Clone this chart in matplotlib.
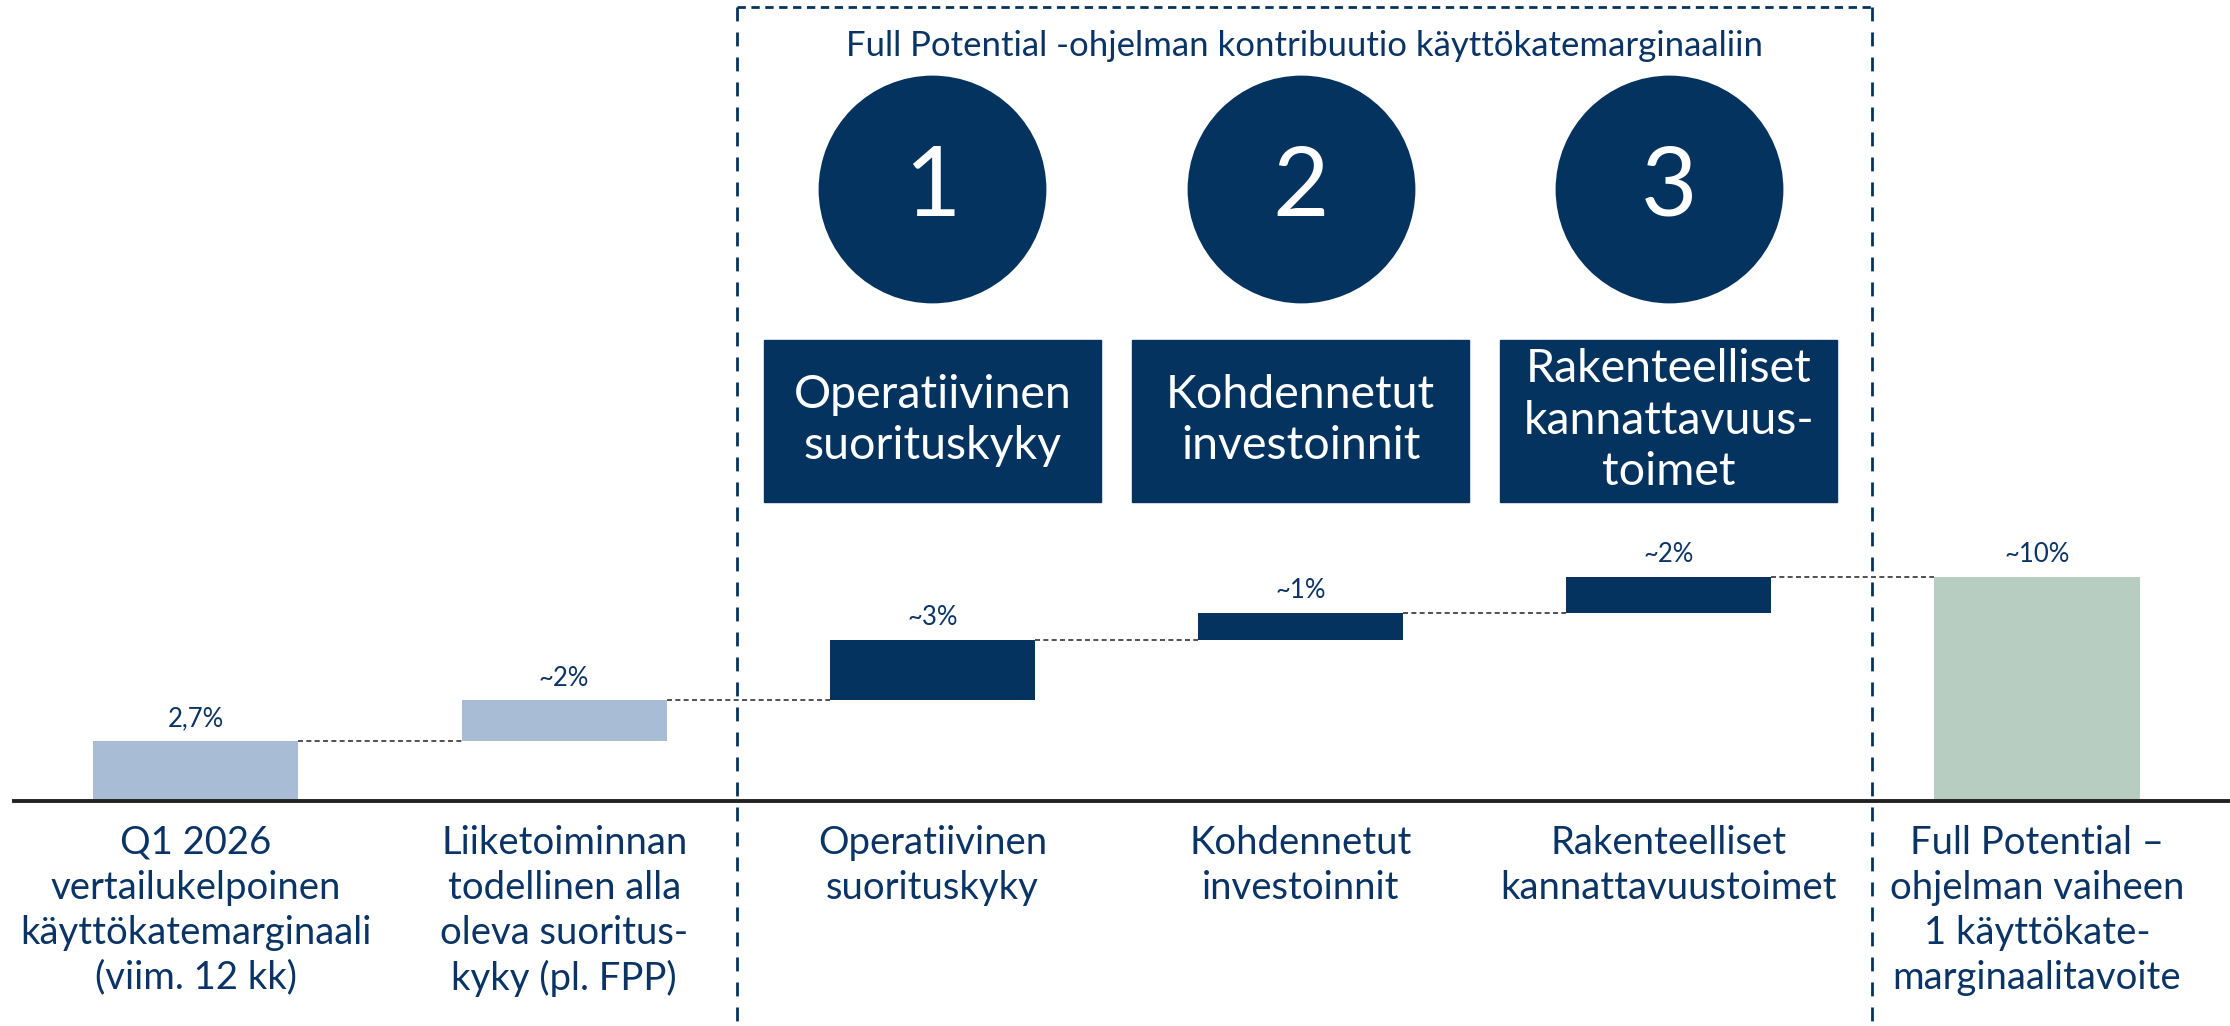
import matplotlib.pyplot as plt
import matplotlib.transforms as mtransforms
from matplotlib.patches import Rectangle
import numpy as np

plt.rcParams['font.family'] = ['Lato', 'DejaVu Sans']

# data
categories = [
    "Q1 2026\nvertailukelpoinen\nkäyttökatemarginaali\n(viim. 12 kk)",
    "Liiketoiminnan\ntodellinen alla\noleva suoritus-\nkyky (pl. FPP)",
    "Operatiivinen\nsuorituskyky",
    "Kohdennetut\ninvestoinnit",
    "Rakenteelliset\nkannattavuustoimet",
    "Full Potential –\nohjelman vaiheen\n1 käyttökate-\nmarginaalitavoite",
]
steps = [2.7, 1.8, 2.7, 1.2, 1.6]
value_labels = ["2,7%", "~2%", "~3%", "~1%", "~2%", "~10%"]
box_labels = ["Operatiivinen\nsuorituskyky", "Kohdennetut\ninvestoinnit",
              "Rakenteelliset\nkannattavuus-\ntoimet"]
circle_numbers = ["1", "2", "3"]
title = "Full Potential -ohjelman kontribuutio käyttökatemarginaaliin"

navy = "#04335F"
light_blue = "#A8BCD6"
green = "#B7CDC1"
text_col = "#0B3466"

total = sum(steps)
bottoms = [0] + list(np.cumsum(steps)[:-1]) + [0]
heights = steps + [total]
colors = [light_blue, light_blue, navy, navy, navy, green]
x = np.arange(len(categories))

fig = plt.figure(figsize=(22.3, 10.26), dpi=100)
ax = fig.add_axes([0, 0, 1, 1])
ax.set_xlim(-0.532, 5.524)
ax.set_ylim(-10.04, 35.76)
ax.axis('off')

bw = 0.557
ax.bar(x, heights, bottom=bottoms, width=bw, color=colors, zorder=3)

# connectors
tops = [b + h for b, h in zip(bottoms, heights)]
for i in range(len(x) - 1):
    ax.plot([x[i] + bw / 2, x[i + 1] - bw / 2], [tops[i], tops[i]],
            color="#333333", lw=1.2, ls=(0, (3, 2)), zorder=2)

# value labels
for i, lab in enumerate(value_labels):
    ax.annotate(lab, (x[i], tops[i]), xytext=(0, 7), textcoords='offset points',
                ha='center', va='bottom', fontsize=18.5, color=text_col)

# baseline
ax.plot([-0.494, 5.524], [0, 0], color="#222222", lw=2.8, zorder=4)

# category labels
for i, lab in enumerate(categories):
    ax.text(x[i], -1.05, lab, ha='center', va='top', fontsize=27.5,
            color=text_col, linespacing=1.31)

# dashed frame
trans = mtransforms.blended_transform_factory(ax.transData, ax.transAxes)
left, right = 1.469, 4.552
ax.plot([left, right], [0.993, 0.993], transform=trans, color=navy, lw=2,
        ls=(0, (3, 2)), clip_on=False)
for xv in (left, right):
    ax.plot([xv, xv], [0.993, 0.0], transform=trans, color=navy, lw=2,
            ls=(0, (5, 4)), clip_on=False)

ax.text(3.01, 0.955, title, transform=trans, ha='center', va='center',
        fontsize=25, color=text_col)

# circles and boxes
for j, idx in enumerate([2, 3, 4]):
    ax.scatter([x[idx]], [0.816], s=164 ** 2, color=navy, transform=trans,
               zorder=5, clip_on=False, linewidths=0)
    ax.text(x[idx], 0.816, circle_numbers[j], transform=trans, ha='center',
            va='center', fontsize=70, color='white', zorder=6)
    ax.add_patch(Rectangle((x[idx] - 0.4575, 0.511), 0.915, 0.158,
                           transform=trans, color=navy, zorder=5))
    ax.text(x[idx], 0.59, box_labels[j], transform=trans, ha='center',
            va='center', fontsize=33.5, color='white', linespacing=1.28, zorder=6)

fig.savefig("out.png", dpi=100)
